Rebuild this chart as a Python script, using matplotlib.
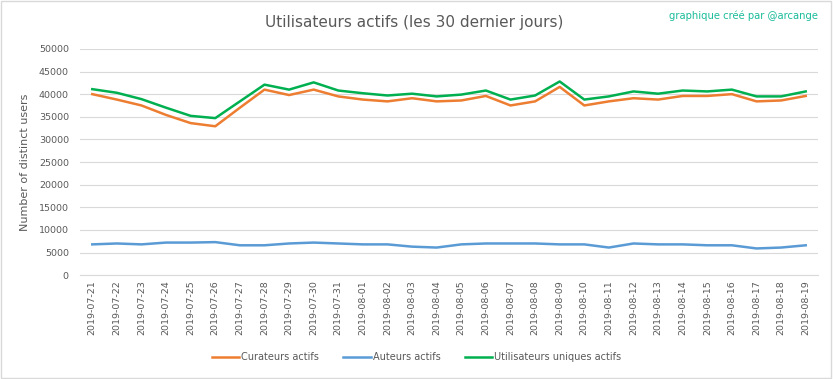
import matplotlib.pyplot as plt

dates = ["2019-07-21", "2019-07-22", "2019-07-23", "2019-07-24", "2019-07-25",
         "2019-07-26", "2019-07-27", "2019-07-28", "2019-07-29", "2019-07-30",
         "2019-07-31", "2019-08-01", "2019-08-02", "2019-08-03", "2019-08-04",
         "2019-08-05", "2019-08-06", "2019-08-07", "2019-08-08", "2019-08-09",
         "2019-08-10", "2019-08-11", "2019-08-12", "2019-08-13", "2019-08-14",
         "2019-08-15", "2019-08-16", "2019-08-17", "2019-08-18", "2019-08-19"]

curateurs = [40000, 38800, 37500, 35400, 33600, 32900, 37000, 41000, 39800, 41000,
             39500, 38800, 38400, 39100, 38400, 38600, 39600, 37500, 38400, 41600,
             37500, 38400, 39100, 38800, 39600, 39600, 40000, 38400, 38600, 39600]

auteurs = [6800, 7000, 6800, 7200, 7200, 7300, 6600, 6600, 7000, 7200,
           7000, 6800, 6800, 6300, 6100, 6800, 7000, 7000, 7000, 6800,
           6800, 6100, 7000, 6800, 6800, 6600, 6600, 5900, 6100, 6600]

uniques = [41100, 40300, 38900, 37000, 35200, 34700, 38400, 42100, 41000, 42600,
           40800, 40200, 39700, 40100, 39500, 39900, 40800, 38800, 39700, 42800,
           38800, 39500, 40600, 40100, 40800, 40600, 41000, 39500, 39500, 40600]

text_color = "#595959"

fig = plt.figure(figsize=(8.33, 3.79), dpi=100)
ax = fig.add_axes([0.096, 0.274, 0.886, 0.597])

x = range(len(dates))
ax.plot(x, curateurs, color="#ED7D31", linewidth=1.8, label="Curateurs actifs")
ax.plot(x, auteurs, color="#5B9BD5", linewidth=1.8, label="Auteurs actifs")
ax.plot(x, uniques, color="#00B050", linewidth=1.8, label="Utilisateurs uniques actifs")

ax.set_xlim(-0.5, len(dates) - 0.5)
ax.set_ylim(0, 50000)
ax.set_yticks(range(0, 50001, 5000))
ax.set_xticks(list(x))
ax.set_xticklabels(dates, rotation=90)
ax.tick_params(length=0, labelsize=6.8, colors=text_color)
ax.tick_params(axis="y", pad=8)
ax.grid(axis="y", color="#d9d9d9", linewidth=0.8)
ax.set_axisbelow(True)
for side in ["top", "right", "left"]:
    ax.spines[side].set_visible(False)
ax.spines["bottom"].set_color("#d9d9d9")

ax.set_ylabel("Number of distinct users", fontsize=8, color=text_color, labelpad=6)

fig.text(0.497, 0.94, "Utilisateurs actifs (les 30 dernier jours)",
         ha="center", va="center", fontsize=11, color=text_color)
fig.text(0.982, 0.958, "graphique créé par @arcange", ha="right", va="center",
         fontsize=7.2, color="#1abc9c")

fig.legend(loc="center", bbox_to_anchor=(0.5, 0.058), ncol=3, frameon=False,
           fontsize=7, labelcolor=text_color, handlelength=2.8, columnspacing=2.5,
           handletextpad=0.2)

# light border round the picture
fig.patches.append(plt.Rectangle((0.001, 0.002), 0.997, 0.995, transform=fig.transFigure,
                                 fill=False, edgecolor="#d9d9d9", linewidth=1))

plt.savefig("out.png", dpi=100)
